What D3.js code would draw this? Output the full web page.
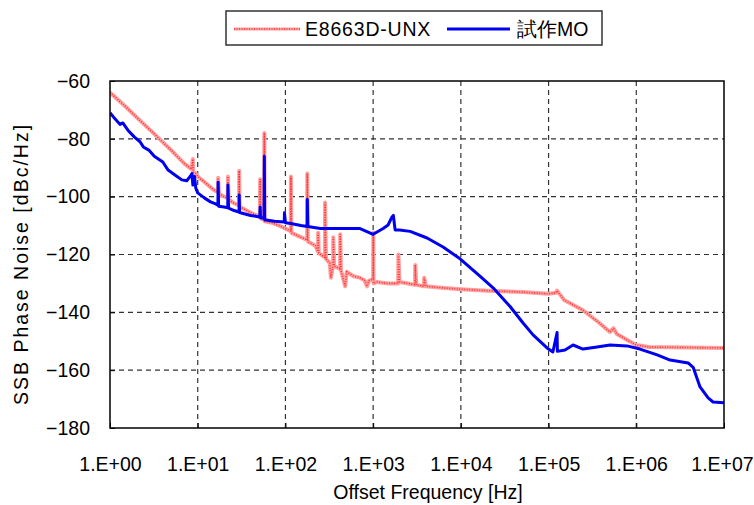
<!DOCTYPE html>
<html><head><meta charset="utf-8">
<script src="https://cdn.jsdelivr.net/npm/d3@7"></script>
<style>
body{margin:0;background:#fff;}
text{font-family:"Liberation Sans","DejaVu Sans",sans-serif;}
</style></head>
<body><svg id="c" width="754" height="505"></svg>
<script>
const seriesNames = ["E8663D-UNX", "試作MO"];
const xTickValues = [1e0,1e1,1e2,1e3,1e4,1e5,1e6,1e7];
const xTickLabels = ["1.E+00","1.E+01","1.E+02","1.E+03","1.E+04","1.E+05","1.E+06","1.E+07"];
const yTickValues = [-60,-80,-100,-120,-140,-160,-180];

const redFreq = [1,1.5,2,3,5,7,8.5,8.8,8.9,9.5,10,12,15,17,17.1,17.5,20,22,22.1,22.5,25,29.6,29.7,30,40,51,51.5,52,57,57.5,58,70,85,100,115,115.5,117,150,177,177.5,180,220,235,236,240,282,283,290,320,330,350,351,360,420,421,430,480,500,600,700,800,850,900,1000,1005,1010,1100,1500,1930,1940,2000,2500,3000,3020,3100,3800,3820,4000,6000,10000,20000,50000,100000,122000,125000,150000,245000,380000,500000,550000,600000,780000,1000000,1400000,10000000];
const redDb   = [-64,-68.8,-72.5,-77.5,-84,-88.5,-90.5,-87,-91.5,-92,-93,-95,-97.5,-98.5,-93.5,-99,-100,-100.5,-93,-100.8,-102,-103,-91,-103.5,-105.5,-107,-94,-107.5,-108,-78,-108.5,-109,-110,-111,-112,-93,-112.5,-114,-115,-92,-115.5,-117,-119,-112.5,-119.5,-121,-102,-121.5,-123,-128,-123.5,-114,-124,-125,-113,-125.5,-131,-126,-127.5,-128,-129,-131,-129,-128.5,-112.5,-130,-129.5,-130,-130,-120,-129.5,-130,-130.5,-123.6,-130.5,-131,-128,-131,-131.5,-132,-132.5,-133,-133.6,-133.2,-132.5,-135.7,-139.2,-143.7,-146.8,-145.5,-147.5,-149.5,-151.3,-152,-152.3];

const blueFreq = [1,1.1,1.3,1.4,1.6,1.9,2.2,2.4,2.8,3.2,4,4.6,5.5,6.6,7.5,8.2,8.6,8.8,9.2,9.5,10,12,14,16,17,17.1,17.3,20,22,22.1,22.5,26,29.6,29.7,30,40,51,51.5,52,57,57.5,58,75,97,97.5,100,115,150,177,177.5,180,250,400,700,1000,1300,1480,1640,1700,1780,2000,2640,4120,6270,9800,16500,23300,36400,51200,66500,96100,112000,125000,126000,154000,190000,247000,357000,503000,785000,1100000,1730000,2430000,3900000,4450000,5330000,6590000,7500000,10000000];
const blueDb   = [-71,-72.5,-75,-74.5,-77,-79.4,-81,-82.8,-84,-86,-88,-90.8,-92.5,-94.2,-94.5,-93,-92,-96,-93,-97,-98.7,-100.5,-101.8,-102.5,-103,-95,-103.3,-103.6,-103.8,-96,-104,-104.8,-105.3,-99.4,-105.5,-106.5,-107,-103.6,-107.3,-107.5,-86,-108,-108.5,-108.8,-105.6,-109,-109.3,-110,-110.3,-101,-110.3,-111,-111,-111,-113,-111,-109.8,-107,-106.5,-111.5,-111.5,-112,-114.3,-117.4,-121.5,-127.5,-131.5,-138,-143.7,-147.8,-152.3,-153.7,-147,-153.5,-153,-151.3,-152.7,-152,-151.3,-151.6,-152.7,-154.7,-156.5,-157.5,-159,-165.8,-169.6,-171,-171.3];

const svg = d3.select("#c");
const L = 110, R = 724, T = 81, B = 428;
const FS = 19.5;
const x = d3.scaleLog().domain([1,1e7]).range([L,R]);
const y = d3.scaleLinear().domain([-180,-60]).range([B,T]);

// grid
const g = svg.append("g");
g.selectAll(".vg").data(xTickValues.slice(1,-1)).join("line")
  .attr("x1",d=>x(d)).attr("x2",d=>x(d)).attr("y1",T).attr("y2",B)
  .attr("stroke","#333").attr("stroke-width",1.2).attr("stroke-dasharray","5,4");
g.selectAll(".hg").data(yTickValues.slice(1,-1)).join("line")
  .attr("x1",L).attr("x2",R).attr("y1",d=>y(d)).attr("y2",d=>y(d))
  .attr("stroke","#333").attr("stroke-width",1.2).attr("stroke-dasharray","5,4");

// axes
const xAxis = d3.axisBottom(x).tickValues(xTickValues).tickFormat((d,i)=>xTickLabels[i]).tickSizeInner(-5).tickSizeOuter(0).tickPadding(29.5);
const ax = svg.append("g").attr("transform",`translate(0,${B})`).call(xAxis);
ax.select(".domain").remove();
ax.selectAll("line").attr("stroke","#000");
ax.selectAll("text").attr("font-size",FS).attr("fill","#000").attr("font-family","'Liberation Sans',sans-serif");
ax.selectAll("text").filter((d,i)=>i===xTickValues.length-1).attr("dx",-2);

const yAxis = d3.axisLeft(y).tickValues(yTickValues).tickFormat(d=>"\u2212"+Math.abs(d)).tickSizeInner(-5).tickSizeOuter(0).tickPadding(20);
const ay = svg.append("g").attr("transform",`translate(${L},0)`).call(yAxis);
ay.select(".domain").remove();
ay.selectAll("line").attr("stroke","#000");
ay.selectAll("text").attr("font-size",FS).attr("fill","#000").attr("font-family","'Liberation Sans',sans-serif");

// lines
const line = d3.line().x(d=>x(d[0])).y(d=>y(d[1]));
const red = redFreq.map((f,i)=>[f,redDb[i]]);
const blue = blueFreq.map((f,i)=>[f,blueDb[i]]);
svg.append("clipPath").attr("id","pc").append("rect").attr("x",L).attr("y",T).attr("width",R-L).attr("height",B-T);
const lg = svg.append("g").attr("clip-path","url(#pc)");
lg.append("path").datum(red).attr("d",line).attr("fill","none").attr("stroke","#ffa0a0").attr("stroke-width",4).attr("stroke-linejoin","round");
lg.append("path").datum(red).attr("d",line).attr("fill","none").attr("stroke","#f33").attr("stroke-width",1.6).attr("stroke-dasharray","1,1.5");
lg.append("path").datum(blue).attr("d",line).attr("fill","none").attr("stroke","#0000f0").attr("stroke-width",3).attr("stroke-linejoin","round");

// frame
svg.append("rect").attr("x",L).attr("y",T).attr("width",R-L).attr("height",B-T)
  .attr("fill","none").attr("stroke","#000").attr("stroke-width",1.5);

// axis titles
svg.append("text").attr("x",428).attr("y",499).attr("text-anchor","middle").attr("font-size",FS).text("Offset Frequency [Hz]");
svg.append("text").attr("transform",`translate(28,264) rotate(-90)`).attr("text-anchor","middle").attr("font-size",FS).attr("letter-spacing",2).text("SSB Phase Noise [dBc/Hz]");

// legend
const leg = svg.append("g");
leg.append("rect").attr("x",226).attr("y",11).attr("width",376).attr("height",34).attr("fill","#fff").attr("stroke","#333").attr("stroke-width",1.5);
leg.append("line").attr("x1",234).attr("x2",300).attr("y1",29).attr("y2",29).attr("stroke","#ffa0a0").attr("stroke-width",3);
leg.append("line").attr("x1",234).attr("x2",300).attr("y1",29).attr("y2",29).attr("stroke","#f33").attr("stroke-width",1.5).attr("stroke-dasharray","1,1.5");
leg.append("text").attr("x",305).attr("y",36).attr("font-size",FS).attr("letter-spacing",0.8).text(seriesNames[0]);
leg.append("line").attr("x1",447).attr("x2",510).attr("y1",29).attr("y2",29).attr("stroke","#0000f0").attr("stroke-width",3);
leg.append("text").attr("x",517).attr("y",36).attr("font-size",FS).attr("font-family","'Noto Sans CJK JP',sans-serif").text(seriesNames[1]);
</script></body></html>
